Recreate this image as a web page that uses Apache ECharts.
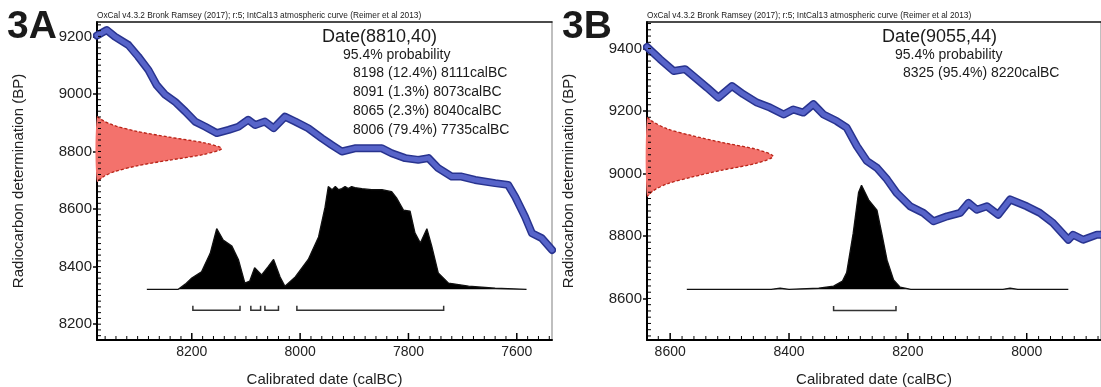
<!DOCTYPE html>
<html>
<head>
<meta charset="utf-8">
<title>OxCal calibration 3A / 3B</title>
<script src="https://cdn.jsdelivr.net/npm/echarts@6/dist/echarts.min.js"></script>
<style>
  html, body { margin: 0; padding: 0; background: #fff; }
  #chart { width: 1101px; height: 387px; }
</style>
</head>
<body>
<div id="chart"></div>
<script>
// calibration curve IntCal13, [calBC, BP]
const curveA = [
  [8375, 9203], [8357, 9222], [8342, 9199], [8317, 9170], [8299, 9130], [8280, 9083],
  [8265, 9031], [8249, 8997], [8231, 8973], [8212, 8939], [8194, 8904], [8175, 8886],
  [8154, 8864], [8132, 8875], [8114, 8886], [8096, 8910], [8083, 8892], [8065, 8904],
  [8049, 8881], [8028, 8921], [8009, 8904], [7985, 8881], [7960, 8846], [7942, 8823],
  [7923, 8800], [7899, 8811], [7874, 8811], [7849, 8811], [7831, 8794], [7806, 8777],
  [7782, 8771], [7763, 8777], [7745, 8742], [7720, 8713], [7702, 8713], [7677, 8701],
  [7640, 8690], [7616, 8684], [7603, 8643], [7585, 8574], [7572, 8516], [7554, 8499],
  [7535, 8458]
];
const curveB = [
  [8639, 9405], [8617, 9366], [8594, 9328], [8575, 9334], [8561, 9312], [8538, 9275],
  [8519, 9243], [8496, 9280], [8477, 9254], [8454, 9227], [8432, 9211], [8409, 9189],
  [8393, 9205], [8376, 9195], [8359, 9222], [8342, 9189], [8320, 9168], [8303, 9147],
  [8286, 9088], [8269, 9040], [8252, 9018], [8235, 8981], [8219, 8938], [8196, 8895],
  [8174, 8874], [8157, 8847], [8134, 8863], [8112, 8874], [8098, 8906], [8084, 8884],
  [8067, 8895], [8048, 8868], [8028, 8917], [8000, 8895], [7978, 8874], [7956, 8842],
  [7930, 8788], [7922, 8804], [7905, 8788], [7882, 8804], [7875, 8804]
];

// calibrated probability distribution, [calBC, relative probability]
const postA = [
  [8283, 0], [8225, 0], [8212, 0.05], [8200, 0.11], [8182, 0.17], [8166, 0.35],
  [8154, 0.59], [8142, 0.48], [8126, 0.42], [8114, 0.29], [8102, 0.06], [8093, 0.08],
  [8084, 0.21], [8071, 0.14], [8059, 0.22], [8049, 0.29], [8037, 0.12], [8028, 0.03],
  [8009, 0.12], [7985, 0.29], [7966, 0.51], [7954, 0.8], [7948, 1.0], [7941, 0.97],
  [7935, 1.0], [7929, 0.97], [7923, 0.98], [7917, 1.0], [7911, 0.98], [7905, 1.0],
  [7899, 0.99], [7886, 0.98], [7868, 0.97], [7849, 0.97], [7831, 0.95], [7822, 0.89],
  [7809, 0.77], [7797, 0.76], [7788, 0.55], [7778, 0.45], [7766, 0.59], [7757, 0.42],
  [7745, 0.16], [7726, 0.06], [7689, 0.03], [7640, 0.01], [7582, 0]
];
const postB = [
  [8572, 0], [8430, 0], [8415, 0.01], [8400, 0], [8350, 0.01], [8325, 0.03],
  [8310, 0.08], [8303, 0.16], [8292, 0.54], [8283, 0.93], [8278, 1.0], [8266, 0.86],
  [8252, 0.76], [8244, 0.54], [8235, 0.28], [8224, 0.09], [8213, 0.02], [8195, 0],
  [8040, 0], [8028, 0.01], [8015, 0], [7930, 0]
];

// radiocarbon measurement, [BP, relative density]
const dateA = [
  [8921, 0], [8905, 0.06], [8890, 0.14], [8870, 0.32], [8850, 0.58], [8830, 0.86],
  [8810, 1], [8790, 0.86], [8770, 0.58], [8750, 0.32], [8730, 0.14], [8715, 0.06], [8696, 0]
];
const dateB = [
  [9179, 0], [9165, 0.05], [9143, 0.16], [9121, 0.36], [9099, 0.6], [9077, 0.87],
  [9055, 1], [9033, 0.87], [9011, 0.6], [8989, 0.36], [8967, 0.16], [8945, 0.05], [8927, 0]
];

// 95.4% ranges, [from, to] calBC
const rangesA = [[8198, 8111], [8091, 8073], [8065, 8040], [8006, 7735]];
const rangesB = [[8325, 8220]];

// tick labels
const calTicksA = [8200, 8000, 7800, 7600];
const bpTicksA = [8200, 8400, 8600, 8800, 9000, 9200];
const calTicksB = [8600, 8400, 8200, 8000];
const bpTicksB = [8600, 8800, 9000, 9200, 9400];

const textA = ['Date(8810,40)', '95.4% probability',
  '8198 (12.4%) 8111calBC', '8091 (1.3%) 8073calBC', '8065 (2.3%) 8040calBC', '8006 (79.4%) 7735calBC'];
const textB = ['Date(9055,44)', '95.4% probability', '8325 (95.4%) 8220calBC'];
const header = 'OxCal v4.3.2 Bronk Ramsey (2017); r:5; IntCal13 atmospheric curve (Reimer et al 2013)';

const FONT = "'Liberation Sans', Arial, sans-serif";
const plain = v => String(v);

function steps(lo, hi, step) {
  const out = [];
  for (let v = Math.ceil(lo / step) * step; v <= hi; v += step) out.push(v);
  return out;
}

const grids = [];
const xAxes = [];
const yAxes = [];
const series = [];

function panel(p, c) {
  grids.push({ left: c.left, top: 22, width: c.width, height: 318, outerBoundsMode: 'none', containLabel: false });
  const xi = p * 2, yi = p * 2;

  // calendar axis, density axis (top border)
  xAxes.push({
    gridIndex: p, type: 'value', position: 'bottom', inverse: true, min: c.calMin, max: c.calMax,
    axisLine: { show: true, onZero: false, lineStyle: { color: '#000', width: 2 } },
    axisTick: { show: false },
    axisLabel: { show: true, customValues: c.calTicks, formatter: plain, margin: 5, fontSize: 14, color: '#222', fontFamily: FONT },
    splitLine: { show: false },
    name: 'Calibrated date (calBC)', nameLocation: 'middle', nameGap: 32, nameMoveOverlap: false,
    nameTextStyle: { fontSize: 15, color: '#222', fontFamily: FONT }
  }, {
    gridIndex: p, type: 'value', position: 'top', min: 0, max: c.densMax,
    axisLine: { show: true, onZero: false, lineStyle: { color: '#111', width: 1.5 } },
    axisTick: { show: false }, axisLabel: { show: false }, splitLine: { show: false }
  });

  // BP axis (labels + outward ticks), probability axis (right border)
  yAxes.push({
    gridIndex: p, type: 'value', position: 'left', min: c.bpMin, max: c.bpMax,
    axisLine: { show: true, onZero: false, lineStyle: { color: '#000', width: 2 } },
    axisTick: { show: true, inside: false, length: 4, customValues: c.bpTicks, lineStyle: { color: '#000', width: 1.5 } },
    axisLabel: { show: true, customValues: c.bpTicks, formatter: plain, margin: 5, fontSize: 15, color: '#222', fontFamily: FONT },
    splitLine: { show: false },
    name: 'Radiocarbon determination (BP)', nameLocation: 'middle', nameGap: 71, nameMoveOverlap: false,
    nameTextStyle: { fontSize: 15, color: '#222', fontFamily: FONT }
  }, {
    gridIndex: p, type: 'value', position: 'right', min: c.probMin, max: c.probMax,
    axisLine: { show: true, onZero: false, lineStyle: { color: '#aaa', width: 1.5 } },
    axisTick: { show: false }, axisLabel: { show: false }, splitLine: { show: false }
  });

  // inward ticks every 20 years / 20 BP, longer at labelled values
  series.push({
    type: 'custom', xAxisIndex: xi, yAxisIndex: yi, data: steps(c.calMin, c.calMax, 20), silent: true, z: 6,
    renderItem: (params, api) => {
      const v = api.value(0);
      const pt = api.coord([v, c.bpMin]);
      const major = c.calTicks.includes(v);
      return { type: 'line', shape: { x1: pt[0], y1: pt[1] - 1, x2: pt[0], y2: pt[1] - (major ? 7 : 4) },
        style: { stroke: '#000', lineWidth: major ? 1.5 : 1 } };
    }
  }, {
    type: 'custom', xAxisIndex: xi, yAxisIndex: yi, data: steps(c.bpMin, c.bpMax, 20).map(v => [c.calMax, v]), silent: true, z: 6,
    renderItem: (params, api) => {
      const pt = api.coord([api.value(0), api.value(1)]);
      return { type: 'line', shape: { x1: pt[0] + 1, y1: pt[1], x2: pt[0] + 4, y2: pt[1] },
        style: { stroke: '#000', lineWidth: 1 } };
    }
  });

  // calibration curve band: dark edge + lighter fill
  series.push({
    type: 'line', xAxisIndex: xi, yAxisIndex: yi, data: c.curve, showSymbol: false, silent: true, z: 3,
    lineStyle: { color: '#28338f', width: 8, join: 'round', cap: 'round' }
  }, {
    type: 'line', xAxisIndex: xi, yAxisIndex: yi, data: c.curve, showSymbol: false, silent: true, z: 4,
    lineStyle: { color: '#5764c9', width: 5, join: 'round', cap: 'round' }
  });

  // radiocarbon date on the BP axis
  const dens = c.date.map(d => [d[1], d[0]]);
  series.push({
    type: 'custom', xAxisIndex: xi + 1, yAxisIndex: yi, data: dens, silent: true, z: 5,
    renderItem: (params, api) => {
      if (params.dataIndex !== 0) return null;
      const pts = dens.map(d => api.coord(d));
      return {
        type: 'group', children: [
          { type: 'polygon', shape: { points: pts, smooth: 0.3 }, style: { fill: '#f3726c', stroke: null } },
          { type: 'polyline', shape: { points: pts, smooth: 0.3 },
            style: { fill: null, stroke: '#b82418', lineWidth: 1.3, lineDash: [3, 2] } }
        ]
      };
    }
  });

  // calibrated distribution
  series.push({
    type: 'line', xAxisIndex: xi, yAxisIndex: yi + 1, data: c.post, showSymbol: false, silent: true, z: 5,
    lineStyle: { color: '#111', width: 1.3 },
    areaStyle: { color: '#000', opacity: 1 }
  });

  // 95.4% range brackets
  series.push({
    type: 'custom', xAxisIndex: xi, yAxisIndex: yi + 1, data: c.ranges, silent: true, z: 5,
    renderItem: (params, api) => {
      const a = api.value(0), b = api.value(1);
      const pts = [api.coord([a, -0.16]), api.coord([a, -0.205]), api.coord([b, -0.205]), api.coord([b, -0.16])];
      return { type: 'polyline', shape: { points: pts }, style: { fill: null, stroke: '#333', lineWidth: 1.5 } };
    }
  });
}

panel(0, {
  left: 97, width: 455, calMin: 7535, calMax: 8375, bpMin: 8145, bpMax: 9250,
  densMax: 3.65, probMin: -0.494, probMax: 2.603,
  calTicks: calTicksA, bpTicks: bpTicksA, curve: curveA, post: postA, date: dateA, ranges: rangesA
});
panel(1, {
  left: 647, width: 454, calMin: 7875, calMax: 8639, bpMin: 8467, bpMax: 9485,
  densMax: 3.6, probMin: -0.4875, probMax: 2.57,
  calTicks: calTicksB, bpTicks: bpTicksB, curve: curveB, post: postB, date: dateB, ranges: rangesB
});

function txt(text, x, y, size, weight) {
  return {
    type: 'text', x: x, y: y, z: 10, silent: true,
    style: { text: text, fontSize: size, fontWeight: weight || 'normal', fontFamily: FONT, fill: '#1a1a1a', verticalAlign: 'middle' }
  };
}

const graphic = [
  txt('3A', 7, 27, 39, 'bold'),
  txt('3B', 562, 27, 39, 'bold'),
  txt(header, 97, 16, 8.3),
  txt(header, 647, 16, 8.3),
  txt(textA[0], 322, 37.5, 18),
  txt(textA[1], 343, 55, 14),
  txt(textA[2], 353, 73, 14),
  txt(textA[3], 353, 92, 14),
  txt(textA[4], 353, 111, 14),
  txt(textA[5], 353, 130, 14),
  txt(textB[0], 882, 37.5, 18),
  txt(textB[1], 895, 55, 14),
  txt(textB[2], 903, 73, 14)
];

const chart = echarts.init(document.getElementById('chart'), null, { renderer: 'canvas' });
chart.setOption({
  backgroundColor: '#fff',
  animation: false,
  grid: grids,
  xAxis: xAxes,
  yAxis: yAxes,
  series: series,
  graphic: graphic
});
window.addEventListener('resize', () => chart.resize());
</script>
</body>
</html>
